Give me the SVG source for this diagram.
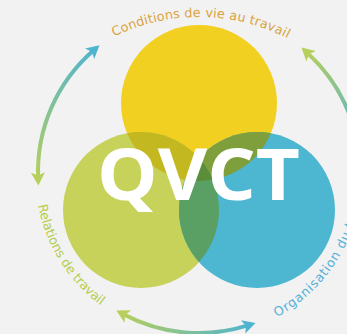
<svg xmlns="http://www.w3.org/2000/svg" width="347" height="334" viewBox="0 0 347 334">
  <style>
    .lbl { font-family: "DejaVu Sans", "Noto Sans", sans-serif; font-size: 12.8px; }
    .arc { fill: none; stroke-width: 4; }
    .big { font-family: "Open Sans", "DejaVu Sans", sans-serif; font-weight: 700; font-size: 72px; fill: #ffffff; }
  </style>
  <defs>
    <clipPath id="clipY"><circle cx="199" cy="103" r="78"/></clipPath>
    <clipPath id="clipG"><circle cx="141" cy="210" r="78"/></clipPath>
    <marker id="headG" viewBox="-7 -9 18 18" markerWidth="18" markerHeight="18" refX="0" refY="0" markerUnits="userSpaceOnUse" orient="auto-start-reverse">
      <path d="M8,0 L-5,-7 L-2,0 L-5,7 Z" fill="#b7cf5c"/>
    </marker>
    <marker id="headB" viewBox="-7 -9 18 18" markerWidth="18" markerHeight="18" refX="0" refY="0" markerUnits="userSpaceOnUse" orient="auto-start-reverse">
      <path d="M8,0 L-5,-7 L-2,0 L-5,7 Z" fill="#4fb4cf"/>
    </marker>
    <linearGradient id="grad1" gradientUnits="userSpaceOnUse" x1="38" y1="180" x2="95" y2="48">
      <stop offset="0" stop-color="#b7cf5c"/>
      <stop offset="1" stop-color="#4fb4cf"/>
    </linearGradient>
    <linearGradient id="grad2" gradientUnits="userSpaceOnUse" x1="120" y1="312" x2="250" y2="324">
      <stop offset="0" stop-color="#b7cf5c"/>
      <stop offset="1" stop-color="#4fb4cf"/>
    </linearGradient>
    <linearGradient id="grad3" gradientUnits="userSpaceOnUse" x1="305" y1="50" x2="352" y2="150">
      <stop offset="0" stop-color="#b7cf5c"/>
      <stop offset="1" stop-color="#4fb4cf"/>
    </linearGradient>
    <path id="tpTop" d="M114,36.6 A194,194 0 0 1 290.1,39.7"/>
    <path id="tpLeft" d="M38,205.3 A164,164 0 0 0 102.6,306.7"/>
    <path id="tpRight" d="M276.8,317.2 A163,163 0 0 0 352.2,118.3"/>
  </defs>

  <rect width="347" height="334" fill="#f2f2f2"/>

  <g id="connectors">
    <path class="arc" d="M38.1,177.6 A161,161 0 0 1 93.4,50.5" stroke="url(#grad1)" marker-start="url(#headG)" marker-end="url(#headB)"/>
    <path class="arc" d="M123.4,314.2 A161,161 0 0 0 247.9,325.4" stroke="url(#grad2)" marker-start="url(#headG)" marker-end="url(#headB)"/>
    <path class="arc" d="M307.4,52.9 A161,161 0 0 1 357.6,200" stroke="url(#grad3)" marker-start="url(#headG)"/>
  </g>

  <g id="node-conditions">
    <circle cx="199" cy="103" r="78" fill="#f2d021"/>
    <text class="lbl" fill="#d9a442" letter-spacing="0.15"><textPath href="#tpTop">Conditions de vie au travail</textPath></text>
  </g>
  <g id="node-relations">
    <circle cx="141" cy="210" r="78" fill="#c6d25a"/>
    <text class="lbl" fill="#b4cd4c" letter-spacing="-0.15"><textPath href="#tpLeft">Relations de travail</textPath></text>
  </g>
  <g id="node-organisation">
    <circle cx="257" cy="210" r="78" fill="#4db6d1"/>
    <text class="lbl" fill="#57b1da" font-size="13.5" letter-spacing="0.8"><textPath href="#tpRight">Organisation du travail</textPath></text>
  </g>

  <g id="overlaps">
    <circle cx="141" cy="210" r="78" fill="#c4b820" clip-path="url(#clipY)"/>
    <circle cx="257" cy="210" r="78" fill="#7f9f3c" clip-path="url(#clipY)"/>
    <circle cx="257" cy="210" r="78" fill="#5a9f64" clip-path="url(#clipG)"/>
    <g clip-path="url(#clipY)">
      <circle cx="257" cy="210" r="78" fill="#5a8e39" clip-path="url(#clipG)"/>
    </g>
  </g>

  <g id="node-qvct">
    <text class="big" x="97" y="200" textLength="203" lengthAdjust="spacingAndGlyphs">QVCT</text>
  </g>
</svg>
